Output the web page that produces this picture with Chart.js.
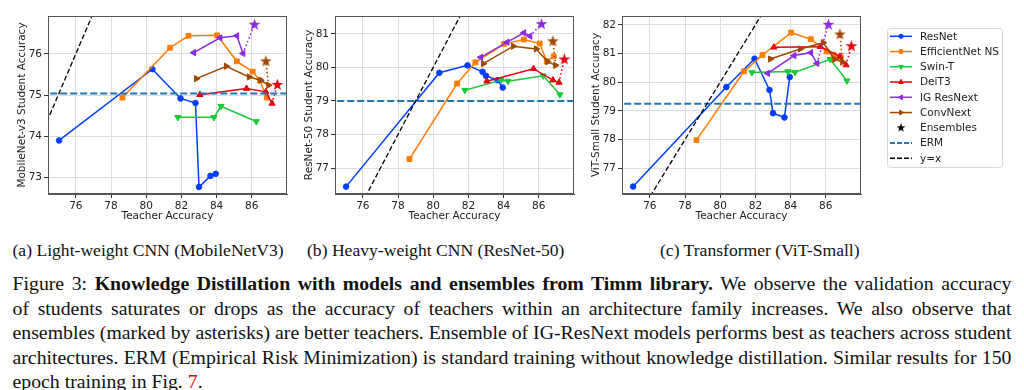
<!DOCTYPE html>
<html>
<head>
<meta charset="utf-8">
<script src="https://cdn.jsdelivr.net/npm/chart.js@4.4.1/dist/chart.umd.min.js"></script>
<style>
  body { margin: 0; background: #fff; width: 1024px; height: 390px; overflow: hidden; position: relative; }
  canvas { position: absolute; top: 0; }
  .serif { position: absolute; font-family: "Liberation Serif", "Times New Roman", serif; font-size: 19.8px; line-height: 24.5px; color: #111; white-space: nowrap; }
  .sub { top: 238px; font-size: 17.6px; }
  .line { left: 12.5px; }
</style>
</head>
<body>
<canvas id="c1" width="281" height="230" style="left:14px"></canvas>
<canvas id="c2" width="281" height="230" style="left:301px"></canvas>
<canvas id="c3" width="436" height="230" style="left:588px"></canvas>

<div class="serif sub" style="left:12.5px">(a) Light-weight CNN (MobileNetV3)</div>
<div class="serif sub" style="left:307px">(b) Heavy-weight CNN (ResNet-50)</div>
<div class="serif sub" style="left:660px">(c) Transformer (ViT-Small)</div>

<div class="serif line fit" style="top:271px">Figure 3: <b>Knowledge Distillation with models and ensembles from Timm library.</b> We observe the validation accuracy</div>
<div class="serif line fit" style="top:295.5px">of students saturates or drops as the accuracy of teachers within an architecture family increases. We also observe that</div>
<div class="serif line fit" style="top:320px">ensembles (marked by asterisks) are better teachers. Ensemble of IG-ResNext models performs best as teachers across student</div>
<div class="serif line fit" style="top:344.5px">architectures. ERM (Empirical Risk Minimization) is standard training without knowledge distillation. Similar results for 150</div>
<div class="serif line" style="top:369px">epoch training in Fig. <span style="color:#e00000">7</span>.</div>

<script>
// x axis (teacher accuracy) is the same in all three panels
const xTicks = [76, 78, 80, 82, 84, 86];

// teacher accuracies of each family
const resnetTeach = [75.05, 80.35, 81.95, 82.8, 83.0, 83.65, 83.95];
const effnetTeach = [78.65, 81.36, 82.4, 84.03, 85.15, 86.05, 86.45, 86.85];
const swinTeach = [81.8, 83.85, 84.25, 86.25, 87.2];
const deitTeach = [83.05, 85.7, 86.8, 87.15];
const igTeach = [82.7, 84.2, 85.15, 85.5];
const convTeach = [82.85, 84.55, 85.85, 86.5, 86.95];
// ensembles: IG ResNext, ConvNext, DeiT3
const ensTeach = [86.15, 86.8, 87.45];

// (a) MobileNetV3 students
const mnv3Resnet = [73.9, 75.63, 74.92, 74.81, 72.77, 73.04, 73.09];
const mnv3Effnet = [74.94, 76.15, 76.44, 76.45, 75.82, 75.57, 75.36, 74.94];
const mnv3Swin = [74.46, 74.46, 74.73, 74.36, null];
const mnv3Deit = [75.01, 75.16, 75.08, 74.8];
const mnv3Ig = [76.03, 76.39, 76.44, 76.01];
const mnv3Conv = [75.40, 75.70, 75.44, 75.36, 75.24];
const mnv3Ens = [76.72, 75.83, 75.26];
const mnv3Erm = 75.04;
const mnv3Ticks = [73, 74, 75, 76];

// (b) ResNet-50 students
const r50Resnet = [76.45, 79.84, 80.06, 79.87, 79.75, 79.62, 79.40];
const r50Effnet = [77.27, 79.52, 80.15, 80.70, 80.83, 80.71, 80.18, 80.33];
const r50Swin = [79.32, 79.62, 79.59, 79.75, 79.19];
const r50Deit = [79.59, 79.96, 79.62, 79.55];
const r50Ig = [80.30, 80.75, 81.03, 80.93];
const r50Conv = [80.11, 80.63, 80.55, 80.17, 80.06];
const r50Ens = [81.30, 80.79, 80.25];
const r50Erm = 79.0;
const r50Ticks = [77, 78, 79, 80, 81];

// (c) ViT-Small students
const vitResnet = [76.36, 79.83, 80.82, 79.73, 78.92, 78.77, 80.18];
const vitEffnet = [77.98, 80.38, 80.95, 81.73, 81.50, 81.07, 80.95, 80.87];
const vitSwin = [80.34, 80.37, 80.35, 80.80, 80.05];
const vitDeit = [81.22, 81.24, 80.9, 80.6];
const vitIg = [80.31, 80.93, 81.03, 80.66];
const vitConv = [80.81, 81.16, 81.38, 80.8, 80.7];
const vitEns = [82.02, 81.68, 81.27];
const vitErm = 79.25;
const vitTicks = [77, 78, 79, 80, 81, 82];

const familyNames = ['ResNet', 'EfficientNet NS', 'Swin-T', 'DeiT3', 'IG ResNext', 'ConvNext'];
const familyTeach = [resnetTeach, effnetTeach, swinTeach, deitTeach, igTeach, convTeach];

// look
const colors = ['#023eff', '#ff7c00', '#1ac938', '#e8000b', '#8b2be2', '#9f4800'];
const marks = ['circle', 'rect', 'triangle', 'triangle', 'triangle', 'triangle'];
const rots = [0, 0, 180, 0, -90, 90];
const radii = [2.8, 3.4, 3.6, 3.6, 3.6, 3.6];
const ermColor = '#1f77b4';
const tickFont = { family: 'DejaVu Sans', size: 10.5 };

// stretch each full caption line to the 1000px text block
document.querySelectorAll('.fit').forEach(el => {
  const gaps = (el.textContent.match(/ /g) || []).length;
  const w = el.getBoundingClientRect().width;
  el.style.wordSpacing = ((999 - w) / gaps) + 'px';
});

function starImg(color, size) {
  const c = document.createElement('canvas');
  c.width = c.height = size;
  const g = c.getContext('2d');
  const cx = size / 2, cy = size / 2 + 0.5, R = size / 2 - 0.3, r = R * 0.4;
  g.beginPath();
  for (let k = 0; k < 10; k++) {
    const a = -Math.PI / 2 + k * Math.PI / 5;
    const rr = k % 2 ? r : R;
    g.lineTo(cx + rr * Math.cos(a), cy + rr * Math.sin(a));
  }
  g.closePath();
  g.fillStyle = color;
  g.fill();
  return c;
}

function buildDatasets(students, ens, erm) {
  const ds = [];
  students.forEach((ys, i) => {
    ds.push({
      label: familyNames[i],
      data: familyTeach[i].map((x, j) => ({ x: x, y: ys[j] })),
      showLine: true,
      borderColor: colors[i], backgroundColor: colors[i],
      borderWidth: 1.5,
      pointStyle: marks[i], pointRotation: rots[i], pointRadius: radii[i],
      pointBorderWidth: 1, pointBorderColor: colors[i], pointBackgroundColor: colors[i],
      clip: 0
    });
  });
  // dotted link from the last member of a family to its ensemble
  [[4, 0], [5, 1], [3, 2]].forEach(([fam, k]) => {
    const xs = familyTeach[fam], ys = students[fam];
    const n = xs.length - 1;
    ds.push({
      label: familyNames[fam] + ' ensemble',
      data: [{ x: xs[n], y: ys[n] }, { x: ensTeach[k], y: ens[k] }],
      showLine: true,
      borderColor: colors[fam], borderWidth: 1.6, borderDash: [1.5, 2.5],
      pointStyle: ['circle', starImg(colors[fam], 13)], pointRadius: [0, 6],
      clip: 0
    });
  });
  ds.push({
    label: 'ERM', data: [{ x: 70, y: erm }, { x: 90, y: erm }], showLine: true,
    borderColor: ermColor, borderWidth: 2, borderDash: [7, 3], pointRadius: 0, clip: 0
  });
  ds.push({
    label: 'y=x', data: [{ x: 70, y: 70 }, { x: 90, y: 90 }], showLine: true,
    borderColor: '#000', borderWidth: 1.3, borderDash: [5, 2.5], pointRadius: 0, clip: 0
  });
  ds.forEach((d, i) => d.order = ds.length - i);
  return ds;
}

const framePlugin = {
  id: 'frame',
  afterDatasetsDraw(chart) {
    const { ctx, chartArea: a } = chart;
    ctx.save();
    ctx.strokeStyle = '#555';
    ctx.lineWidth = 1;
    ctx.strokeRect(Math.round(a.left) + 0.5, Math.round(a.top) + 0.5,
      Math.round(a.right - a.left) - 1, Math.round(a.bottom - a.top) - 1);
    ctx.restore();
  }
};

const legendPlugin = {
  id: 'boxLegend',
  afterDraw(chart) {
    const ctx = chart.ctx;
    const x0 = 299, y0 = 28, w = 115, h = 139;
    ctx.save();
    ctx.fillStyle = '#fff';
    ctx.strokeStyle = '#d8d8d8';
    ctx.lineWidth = 1;
    ctx.beginPath();
    ctx.roundRect(x0 + 0.5, y0 + 0.5, w, h, 3);
    ctx.fill();
    ctx.stroke();
    ctx.font = '10.5px "DejaVu Sans"';
    ctx.textBaseline = 'middle';
    const items = familyNames.map((n, i) => ({ text: n, color: colors[i], mark: marks[i], rot: rots[i], r: radii[i] * 0.75 }));
    items.push({ text: 'Ensembles', star: true });
    items.push({ text: 'ERM', color: ermColor, dash: [5, 2], lw: 2 });
    items.push({ text: 'y=x', color: '#000', dash: [5, 2], lw: 1.5 });
    items.forEach((it, i) => {
      const y = 36.3 + i * 15.25;
      if (it.star) {
        const img = starImg('#000', 10);
        ctx.drawImage(img, x0 + 14 - 5, y - 5.5);
      } else {
        ctx.strokeStyle = it.color;
        ctx.lineWidth = it.lw || 1.5;
        ctx.setLineDash(it.dash || []);
        ctx.beginPath();
        ctx.moveTo(x0 + 3, y);
        ctx.lineTo(x0 + 25, y);
        ctx.stroke();
        ctx.setLineDash([]);
        if (it.mark) {
          ctx.fillStyle = it.color;
          ctx.lineWidth = 1;
          Chart.helpers.drawPoint(ctx, { pointStyle: it.mark, rotation: it.rot, radius: it.r, borderWidth: 1 }, x0 + 14, y);
        }
      }
      ctx.fillStyle = '#222';
      ctx.fillText(it.text, x0 + 33, y + 0.5);
    });
    ctx.restore();
  }
};

function makeChart(id, yTitle, yMin, yMax, yTicks, students, ens, erm, padRight, extra) {
  const plugins = [framePlugin];
  if (extra) plugins.push(extra);
  return new Chart(document.getElementById(id), {
    type: 'scatter',
    data: { datasets: buildDatasets(students, ens, erm) },
    plugins: plugins,
    options: {
      responsive: false,
      animation: false,
      devicePixelRatio: 1,
      layout: { padding: { top: 16, right: padRight, left: 0, bottom: 0 } },
      plugins: { legend: { display: false }, tooltip: { enabled: false } },
      scales: {
        x: {
          type: 'linear', min: 74.42, max: 88.0,
          afterBuildTicks: sc => { sc.ticks = xTicks.map(v => ({ value: v })); },
          afterFit: sc => { sc.height = 36; },
          grid: { color: '#dedede', tickLength: 4, tickColor: '#333' },
          border: { color: '#555' },
          ticks: { font: tickFont, color: '#222', padding: 2 },
          title: { display: true, text: 'Teacher Accuracy', font: tickFont, color: '#222', padding: { top: 0, bottom: 7 } }
        },
        y: {
          type: 'linear', min: yMin, max: yMax,
          afterBuildTicks: sc => { sc.ticks = yTicks.map(v => ({ value: v })); },
          afterFit: sc => { sc.width = 34; },
          grid: { color: '#dedede', tickLength: 4, tickColor: '#333' },
          border: { color: '#555' },
          ticks: { font: tickFont, color: '#222', padding: 2 },
          title: { display: true, text: yTitle, font: tickFont, color: '#222', padding: { top: 1.7, bottom: 0 } }
        }
      }
    }
  });
}

makeChart('c1', 'MobileNet-v3 Student Accuracy', 72.6, 76.92, mnv3Ticks,
  [mnv3Resnet, mnv3Effnet, mnv3Swin, mnv3Deit, mnv3Ig, mnv3Conv], mnv3Ens, mnv3Erm, 8);
makeChart('c2', 'ResNet-50 Student Accuracy', 76.23, 81.53, r50Ticks,
  [r50Resnet, r50Effnet, r50Swin, r50Deit, r50Ig, r50Conv], r50Ens, r50Erm, 8);
makeChart('c3', 'ViT-Small Student Accuracy', 76.1, 82.31, vitTicks,
  [vitResnet, vitEffnet, vitSwin, vitDeit, vitIg, vitConv], vitEns, vitErm, 163, legendPlugin);
</script>
</body>
</html>
